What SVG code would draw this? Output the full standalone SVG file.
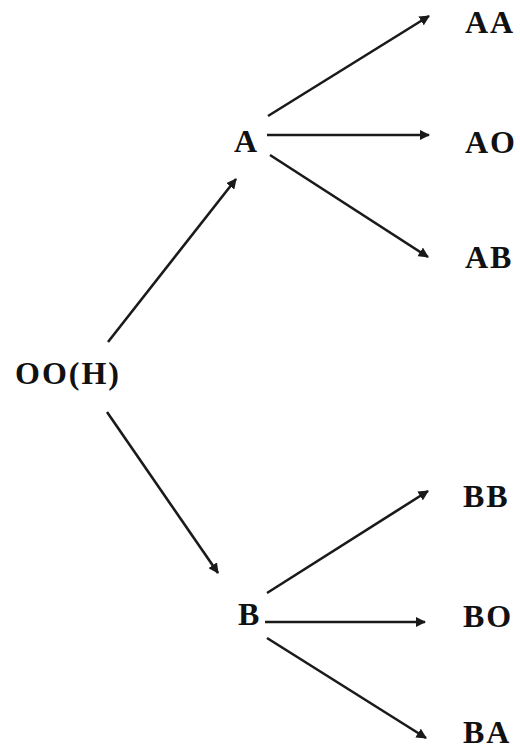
<svg xmlns="http://www.w3.org/2000/svg" width="520" height="750" viewBox="0 0 520 750">
<style>
.lbl{font-family:"Liberation Serif","Times New Roman",serif;font-size:32px;font-weight:bold;fill:#111;letter-spacing:2px}
.edge{stroke:#1a1a1a;stroke-width:2.6;fill:none;marker-end:url(#ah)}
</style>
<defs>
<marker id="ah" viewBox="0 0 10 10" refX="9" refY="5" markerWidth="4" markerHeight="4" orient="auto" markerUnits="strokeWidth">
<path d="M0,0 L10,5 L0,10 Z" fill="#1a1a1a"/>
</marker>
</defs>
<rect width="520" height="750" fill="#fff"/>
<g id="connectors">
<line class="edge" x1="108" y1="342" x2="236" y2="179"/>
<line class="edge" x1="107" y1="412" x2="218" y2="573"/>
<line class="edge" x1="268" y1="116" x2="429" y2="16"/>
<line class="edge" x1="267" y1="135" x2="429" y2="135"/>
<line class="edge" x1="270" y1="155" x2="428" y2="257"/>
<line class="edge" x1="267" y1="593" x2="428" y2="491"/>
<line class="edge" x1="265" y1="622" x2="425" y2="622"/>
<line class="edge" x1="267" y1="638" x2="426" y2="738"/>
</g>
<g id="OOH"><text class="lbl" x="15" y="384">OO(H)</text></g>
<g id="A"><text class="lbl" x="234" y="152">A</text></g>
<g id="B"><text class="lbl" x="238" y="625">B</text></g>
<g id="AA"><text class="lbl" x="465" y="33">AA</text></g>
<g id="AO"><text class="lbl" x="465" y="153">AO</text></g>
<g id="AB"><text class="lbl" x="465" y="268">AB</text></g>
<g id="BB"><text class="lbl" x="463" y="507">BB</text></g>
<g id="BO"><text class="lbl" x="463" y="627">BO</text></g>
<g id="BA"><text class="lbl" x="463" y="743">BA</text></g>
</svg>
